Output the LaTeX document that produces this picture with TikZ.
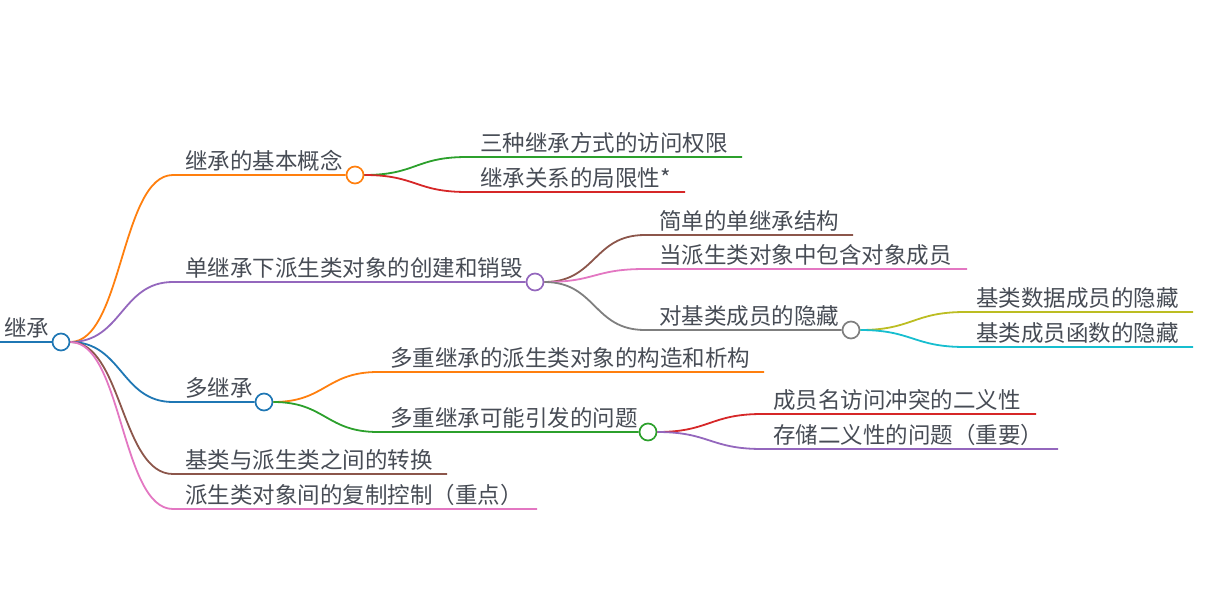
\documentclass[tikz,border=0pt]{standalone}
\usepackage{fontspec}
\newfontfamily\cjk{Noto Sans CJK SC}
\usepackage{tikz}

\definecolor{cblue}{HTML}{1F77B4}
\definecolor{corange}{HTML}{FF7F0E}
\definecolor{cgreen}{HTML}{2CA02C}
\definecolor{cred}{HTML}{D62728}
\definecolor{cpurple}{HTML}{9467BD}
\definecolor{cbrown}{HTML}{8C564B}
\definecolor{cpink}{HTML}{E377C2}
\definecolor{cgray}{HTML}{7F7F7F}
\definecolor{colive}{HTML}{BCBD22}
\definecolor{ccyan}{HTML}{17BECF}
\definecolor{txt}{HTML}{474C55}

\tikzset{
	dot/.style={circle, draw, fill=white, line width=1.7pt, minimum size=17pt, inner sep=0pt},
	lbl/.style={anchor=base west, inner sep=0pt, text=txt, font=\cjk\fontsize{22.5}{22.5}\selectfont},
	br/.style={line width=1.8pt},
}

\begin{document}
\begin{tikzpicture}[x=1pt,y=-1pt]
		\useasboundingbox (0,0) rectangle (1209,599);
		% root
		\coordinate (rootin) at (0,342);
		\node[dot, draw=cblue] (root) at (61,342) {};
		\node[lbl] (roottxt) at (4,336) {继承};
		\draw[br, cblue] (rootin) -- (root.west);

		% first level
		\node[dot, draw=corange] (basic) at (355,175) {};
		\coordinate (basicin) at (173,175);
		\node[lbl] (basictxt) at (185,169) {继承的基本概念};

		\node[dot, draw=cpurple] (single) at (535,282) {};
		\coordinate (singlein) at (173,282);
		\node[lbl] (singletxt) at (185,276) {单继承下派生类对象的创建和销毁};

		\node[dot, draw=cblue] (multi) at (264,402) {};
		\coordinate (multiin) at (173,402);
		\node[lbl] (multitxt) at (185,396) {多继承};

		\coordinate (convin) at (173,474);
		\coordinate (convout) at (447,474);
		\node[lbl] (convtxt) at (185,468) {基类与派生类之间的转换};

		\coordinate (copyin) at (173,509);
		\coordinate (copyout) at (537,509);
		\node[lbl] (copytxt) at (185,503) {派生类对象间的复制控制（重点）};

		\draw[br, corange] (root.east) .. controls +(52,0) and +(-52,0) .. (basicin) -- (basic.west);
		\draw[br, cpurple] (root.east) .. controls +(52,0) and +(-52,0) .. (singlein) -- (single.west);
		\draw[br, cblue] (root.east) .. controls +(52,0) and +(-52,0) .. (multiin) -- (multi.west);
		\draw[br, cbrown] (root.east) .. controls +(52,0) and +(-52,0) .. (convin) -- (convout);
		\draw[br, cpink] (root.east) .. controls +(52,0) and +(-52,0) .. (copyin) -- (copyout);

		% basic concepts
		\coordinate (accessin) at (467,157);
		\coordinate (accessout) at (742,157);
		\node[lbl] (accesstxt) at (480,151) {三种继承方式的访问权限};
		\coordinate (limitin) at (467,192);
		\coordinate (limitout) at (685,192);
		\node[lbl] (limittxt) at (480,186) {继承关系的局限性*};
		\draw[br, cgreen] (basic.east) .. controls +(52,0) and +(-52,0) .. (accessin) -- (accessout);
		\draw[br, cred] (basic.east) .. controls +(52,0) and +(-52,0) .. (limitin) -- (limitout);

		% single inheritance
		\coordinate (simplein) at (645,235);
		\coordinate (simpleout) at (853,235);
		\node[lbl] (simpletxt) at (659,229) {简单的单继承结构};
		\coordinate (memberin) at (645,269);
		\coordinate (memberout) at (967,269);
		\node[lbl] (membertxt) at (659,263) {当派生类对象中包含对象成员};
		\node[dot, draw=cgray] (hide) at (851,330) {};
		\coordinate (hidein) at (645,330);
		\node[lbl] (hidetxt) at (659,324) {对基类成员的隐藏};
		\draw[br, cbrown] (single.east) .. controls +(52,0) and +(-52,0) .. (simplein) -- (simpleout);
		\draw[br, cpink] (single.east) .. controls +(52,0) and +(-52,0) .. (memberin) -- (memberout);
		\draw[br, cgray] (single.east) .. controls +(52,0) and +(-52,0) .. (hidein) -- (hide.west);

		% hiding
		\coordinate (datain) at (965,312);
		\coordinate (dataout) at (1193,312);
		\node[lbl] (datatxt) at (976,306) {基类数据成员的隐藏};
		\coordinate (funcin) at (965,347);
		\coordinate (funcout) at (1193,347);
		\node[lbl] (functxt) at (976,341) {基类成员函数的隐藏};
		\draw[br, colive] (hide.east) .. controls +(52,0) and +(-52,0) .. (datain) -- (dataout);
		\draw[br, ccyan] (hide.east) .. controls +(52,0) and +(-52,0) .. (funcin) -- (funcout);

		% multiple inheritance
		\coordinate (ctorin) at (378,372);
		\coordinate (ctorout) at (764,372);
		\node[lbl] (ctortxt) at (390,366) {多重继承的派生类对象的构造和析构};
		\node[dot, draw=cgreen] (prob) at (648,432) {};
		\coordinate (probin) at (378,432);
		\node[lbl] (probtxt) at (390,426) {多重继承可能引发的问题};
		\draw[br, corange] (multi.east) .. controls +(52,0) and +(-52,0) .. (ctorin) -- (ctorout);
		\draw[br, cgreen] (multi.east) .. controls +(52,0) and +(-52,0) .. (probin) -- (prob.west);

		% problems
		\coordinate (namein) at (762,414);
		\coordinate (nameout) at (1036,414);
		\node[lbl] (nametxt) at (773,408) {成员名访问冲突的二义性};
		\coordinate (storein) at (762,449);
		\coordinate (storeout) at (1058,449);
		\node[lbl] (storetxt) at (773,443) {存储二义性的问题（重要）};
		\draw[br, cred] (prob.east) .. controls +(52,0) and +(-52,0) .. (namein) -- (nameout);
		\draw[br, cpurple] (prob.east) .. controls +(52,0) and +(-52,0) .. (storein) -- (storeout);
	\end{tikzpicture}
\end{document}
